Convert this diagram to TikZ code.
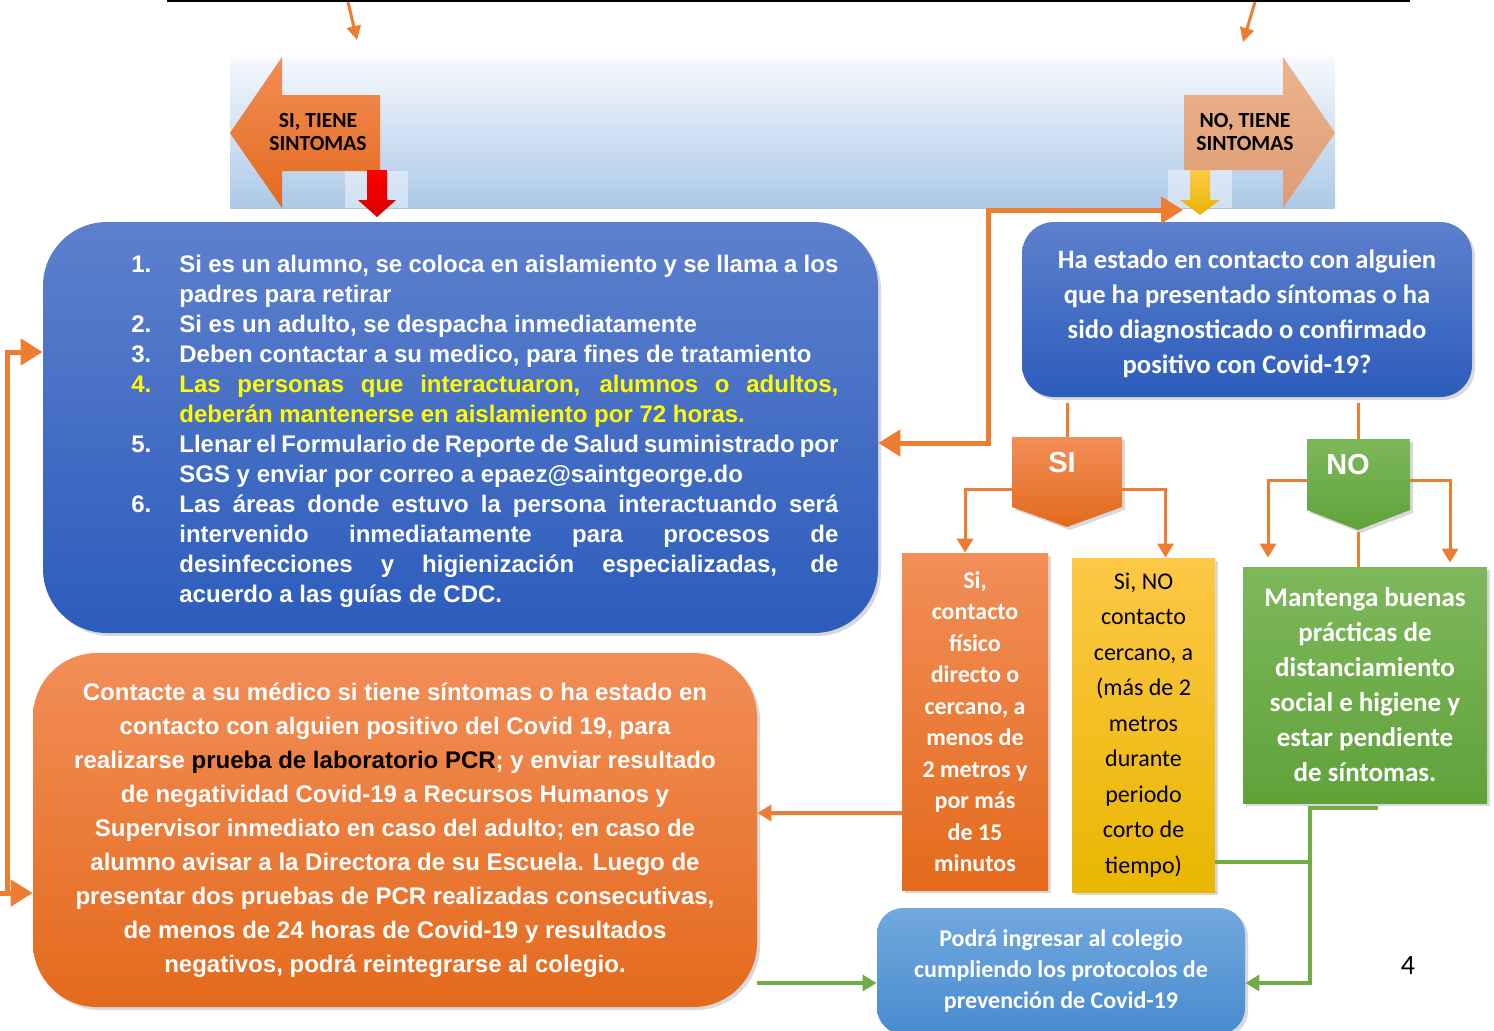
\documentclass[tikz,border=0pt]{standalone}
\usepackage{fontspec}
\setmainfont{Carlito}
\newfontfamily\arialf{Liberation Sans}
\usepackage{xcolor}
\usetikzlibrary{arrows.meta}
\usetikzlibrary{shadows}

\definecolor{lineorange}{RGB}{237,125,49}
\definecolor{linegreen}{RGB}{112,173,71}
\definecolor{itemyellow}{RGB}{255,255,0}
\definecolor{bandtop}{RGB}{246,249,253}
\definecolor{bandbot}{RGB}{172,201,232}
\definecolor{bluetop}{RGB}{93,128,205}
\definecolor{bluebot}{RGB}{44,92,188}
\definecolor{orngtop}{RGB}{242,142,88}
\definecolor{orngbot}{RGB}{228,106,28}
\definecolor{yelltop}{RGB}{253,200,70}
\definecolor{yellbot}{RGB}{233,182,0}
\definecolor{grntop}{RGB}{126,184,92}
\definecolor{grnbot}{RGB}{96,162,58}
\definecolor{skytop}{RGB}{114,169,222}
\definecolor{skybot}{RGB}{72,139,208}
\definecolor{salmtop}{RGB}{236,180,142}
\definecolor{salmbot}{RGB}{222,156,116}

\newcommand{\jline}[1]{\makebox[329.5pt][s]{#1}}
\newcommand{\inum}[1]{\makebox[24pt][l]{#1}}
\newcommand{\yl}[1]{{\color{itemyellow}#1}}

\tikzset{
  box/.style={inner sep=0pt, align=center,
    drop shadow={opacity=0.3, shadow xshift=1.5pt, shadow yshift=-1.5pt}},
  bluebox/.style={box, top color=bluetop, bottom color=bluebot},
  orngbox/.style={box, top color=orngtop, bottom color=orngbot},
  arrowtext/.style={inner sep=0pt, align=center, text=black,
    font=\bfseries\fontsize{10.8}{11.5}\selectfont},
  pentext/.style={inner sep=0pt, text=white, font=\arialf\bfseries\fontsize{14.5}{16}\selectfont},
  tip/.style={-{Triangle[width=8pt,length=7pt]}},
  bigtip/.style={-{Triangle[width=13pt,length=11pt]}},
  brline/.style={lineorange, line width=1.5pt},
  loopline/.style={lineorange, line width=2.5pt},
  grnline/.style={linegreen, line width=2pt}
}

\begin{document}
\begin{tikzpicture}[x=0.5pt,y=-0.5pt]
\path[use as bounding box, clip] (0,0) rectangle (1494,1030);

% top line and the two arrows coming from it
\coordinate (topleft) at (167,1);
\coordinate (topright) at (1410,1);
\draw[line width=1pt] (topleft) -- (topright);
\draw[brline, -{Triangle[width=7pt,length=7pt]}] (348,2) -- (357,40);
\draw[brline, -{Triangle[width=7pt,length=7pt]}] (1255,2) -- (1243,42);

% band with the two big arrows
\shade[top color=bandtop, bottom color=bandbot] (230,57) rectangle (1335,208);
\fill[white, opacity=0.45] (345,171) rectangle (408,208);
\fill[white, opacity=0.45] (1168,170) rectangle (1232,208);
\path[top color=orngtop, bottom color=orngbot]
  (230,133) -- (282,57) -- (282,95) -- (380,95) -- (380,171) -- (282,171) -- (282,208) -- cycle;
\node[arrowtext] (sitiene) at (318,132) {SI, TIENE\\SINTOMAS};
\path[top color=salmtop, bottom color=salmbot]
  (1335,133) -- (1283,57) -- (1283,95) -- (1184,95) -- (1184,170) -- (1283,170) -- (1283,208) -- cycle;
\node[arrowtext] (notiene) at (1245,132) {NO, TIENE\\SINTOMAS};
\path[top color=red, bottom color=red!85!black]
  (367,170) -- (387,170) -- (387,200) -- (396,200) -- (377,217) -- (358,200) -- (367,200) -- cycle;
\path[top color=yelltop, bottom color=yellbot]
  (1190,170) -- (1210,170) -- (1210,200) -- (1220,200) -- (1200,215) -- (1180,200) -- (1190,200) -- cycle;

% main boxes
\node[bluebox, rounded corners=32pt, minimum width=417.5pt, minimum height=205.5pt] (listbox) at (460.5,427.5) {};
\node[inner sep=0pt, anchor=west, align=left, text=white,
  font=\arialf\bfseries\fontsize{12}{15}\selectfont] (listtxt) at (131,431) {%
\inum{1.}\jline{Si es un alumno, se coloca en aislamiento y se llama a los}\\
\inum{}padres para retirar\\
\inum{2.}Si es un adulto, se despacha inmediatamente\\
\inum{3.}Deben contactar a su medico, para fines de tratamiento\\
\yl{\inum{4.}\jline{Las personas que interactuaron, alumnos o adultos,}}\\
\yl{\inum{}deberán mantenerse en aislamiento por 72 horas.}\\
\inum{5.}\jline{Llenar el Formulario de Reporte de Salud suministrado por}\\
\inum{}SGS y enviar por correo a epaez@saintgeorge.do\\
\inum{6.}\jline{Las áreas donde estuvo la persona interactuando será}\\
\inum{}\jline{intervenido inmediatamente para procesos de}\\
\inum{}\jline{desinfecciones y higienización especializadas, de}\\
\inum{}acuerdo a las guías de CDC.};

\node[bluebox, rounded corners=16pt, minimum width=225pt, minimum height=87.5pt, text=white,
  font=\bfseries\fontsize{13.3}{17.5}\selectfont] (askbox) at (1247,309.5)
  {\rule{0pt}{14pt}Ha estado en contacto con alguien\\que ha presentado síntomas o ha\\sido diagnosticado o confirmado\\positivo con Covid-19?};

\node[orngbox, rounded corners=32pt, minimum width=362pt, minimum height=177pt, text=white,
  font=\arialf\bfseries\fontsize{12}{17}\selectfont] (pcrbox) at (395,830)
  {Contacte a su médico si tiene síntomas o ha estado en\\contacto con alguien positivo del Covid 19, para\\realizarse {\color{black}prueba de laboratorio PCR}; y enviar resultado\\de negatividad Covid-19 a Recursos Humanos y\\Supervisor inmediato en caso del adulto; en caso de\\alumno avisar a la Directora de su Escuela. Luego de\\presentar dos pruebas de PCR realizadas consecutivas,\\de menos de 24 horas de Covid-19 y resultados\\negativos, podrá reintegrarse al colegio.};

\node[orngbox, minimum width=73pt, minimum height=168.5pt, text=white,
  font=\bfseries\fontsize{12}{15.75}\selectfont] (sibox) at (975,721.5)
  {Si,\\contacto\\físico\\directo o\\cercano, a\\menos de\\2 metros y\\por más\\de 15\\minutos};

\node[box, top color=yelltop, bottom color=yellbot, minimum width=71.5pt, minimum height=167pt, text=black,
  font=\fontsize{12}{17.75}\selectfont] (nobox) at (1143.5,725)
  {Si, NO\\contacto\\cercano, a\\(más de 2\\metros\\durante\\periodo\\corto de\\tiempo)};

\node[box, top color=grntop, bottom color=grnbot, minimum width=122pt, minimum height=118pt, text=white,
  font=\bfseries\fontsize{13.5}{17.5}\selectfont] (keepbox) at (1365,685)
  {Mantenga buenas\\prácticas de\\distanciamiento\\social e higiene y\\estar pendiente\\de síntomas.};

\node[box, top color=skytop, bottom color=skybot, rounded corners=13pt, minimum width=184pt, minimum height=63pt, text=white,
  font=\bfseries\fontsize{12}{15.5}\selectfont] (podbox) at (1061,971)
  {Podrá ingresar al colegio\\cumpliendo los protocolos de\\prevención de Covid-19};

% SI / NO pentagons
\path[top color=orngtop, bottom color=orngbot, drop shadow={opacity=0.3, shadow xshift=1.5pt, shadow yshift=-1.5pt}]
  (1012,437) -- (1122,437) -- (1122,507) -- (1067,527) -- (1012,507) -- cycle;
\node[pentext] (si) at (1062,463) {SI};
\coordinate (sitop) at (1067,437);
\coordinate (sileft) at (1012,489);
\coordinate (siright) at (1122,489);
\path[top color=grntop, bottom color=grnbot, drop shadow={opacity=0.3, shadow xshift=1.5pt, shadow yshift=-1.5pt}]
  (1307,439) -- (1410,439) -- (1410,510) -- (1358,530) -- (1307,510) -- cycle;
\node[pentext] (no) at (1348,465) {NO};
\coordinate (notop) at (1358,439);
\coordinate (noleft) at (1307,480);
\coordinate (noright) at (1410,480);
\coordinate (notip) at (1358,532);

% branches
\draw[brline] ([yshift=-3pt]askbox.south -| sitop) -- (sitop);
\draw[brline] ([yshift=-3pt]askbox.south -| notop) -- (notop);
\draw[brline, tip] (sileft) -| ([xshift=-5pt]sibox.north);
\draw[brline, tip] (siright) -| ([xshift=11pt]nobox.north);
\draw[brline, tip] (noleft) -| ([xshift=-48.5pt,yshift=4.5pt]keepbox.north);
\draw[brline, tip] (noright) -| ([xshift=42.5pt,yshift=2pt]keepbox.north);
\draw[brline] (notip) -- (notip |- keepbox.north);

% orange connectors
\coordinate (lstin) at ([yshift=-7.75pt]listbox.east);
\coordinate (nohit) at (1183,210);
\draw[loopline, {Triangle[width=13pt,length=11pt]}-{Triangle[width=13pt,length=11pt]}]
  (lstin) -- ++(110,0) |- (nohit);
\coordinate (lstloop) at ([yshift=37.75pt]listbox.west);
\coordinate (pcrloop) at ([yshift=-31.5pt]pcrbox.west);
\draw[loopline, bigtip] (pcrloop) ++(-25,0) |- (lstloop);
\draw[loopline, bigtip] (pcrloop) ++(-33,0) -- (pcrloop);
\coordinate (siout) at ([yshift=-45.75pt]sibox.west);
\draw[lineorange, line width=2pt, tip] (siout) -- (siout -| pcrbox.east);

% green connectors
\coordinate (pcrout) at ([yshift=-76.5pt]pcrbox.east);
\draw[grnline, tip] (pcrout) -- (pcrout -| podbox.west);
\coordinate (gjoin) at ([xshift=-27.5pt,yshift=-2.5pt]keepbox.south);
\coordinate (podin) at ([yshift=-6pt]podbox.east);
\draw[grnline, tip] ([xshift=6.5pt,yshift=-2.5pt]keepbox.south) -- (gjoin) |- (podin);
\coordinate (yelout) at ([yshift=-68.5pt]nobox.east);
\draw[grnline] (yelout) -- (yelout -| gjoin);

% page number
\node[font=\fontsize{14}{16}\selectfont, inner sep=0pt] (pagenum) at (1408,965) {4};
\end{tikzpicture}
\end{document}
